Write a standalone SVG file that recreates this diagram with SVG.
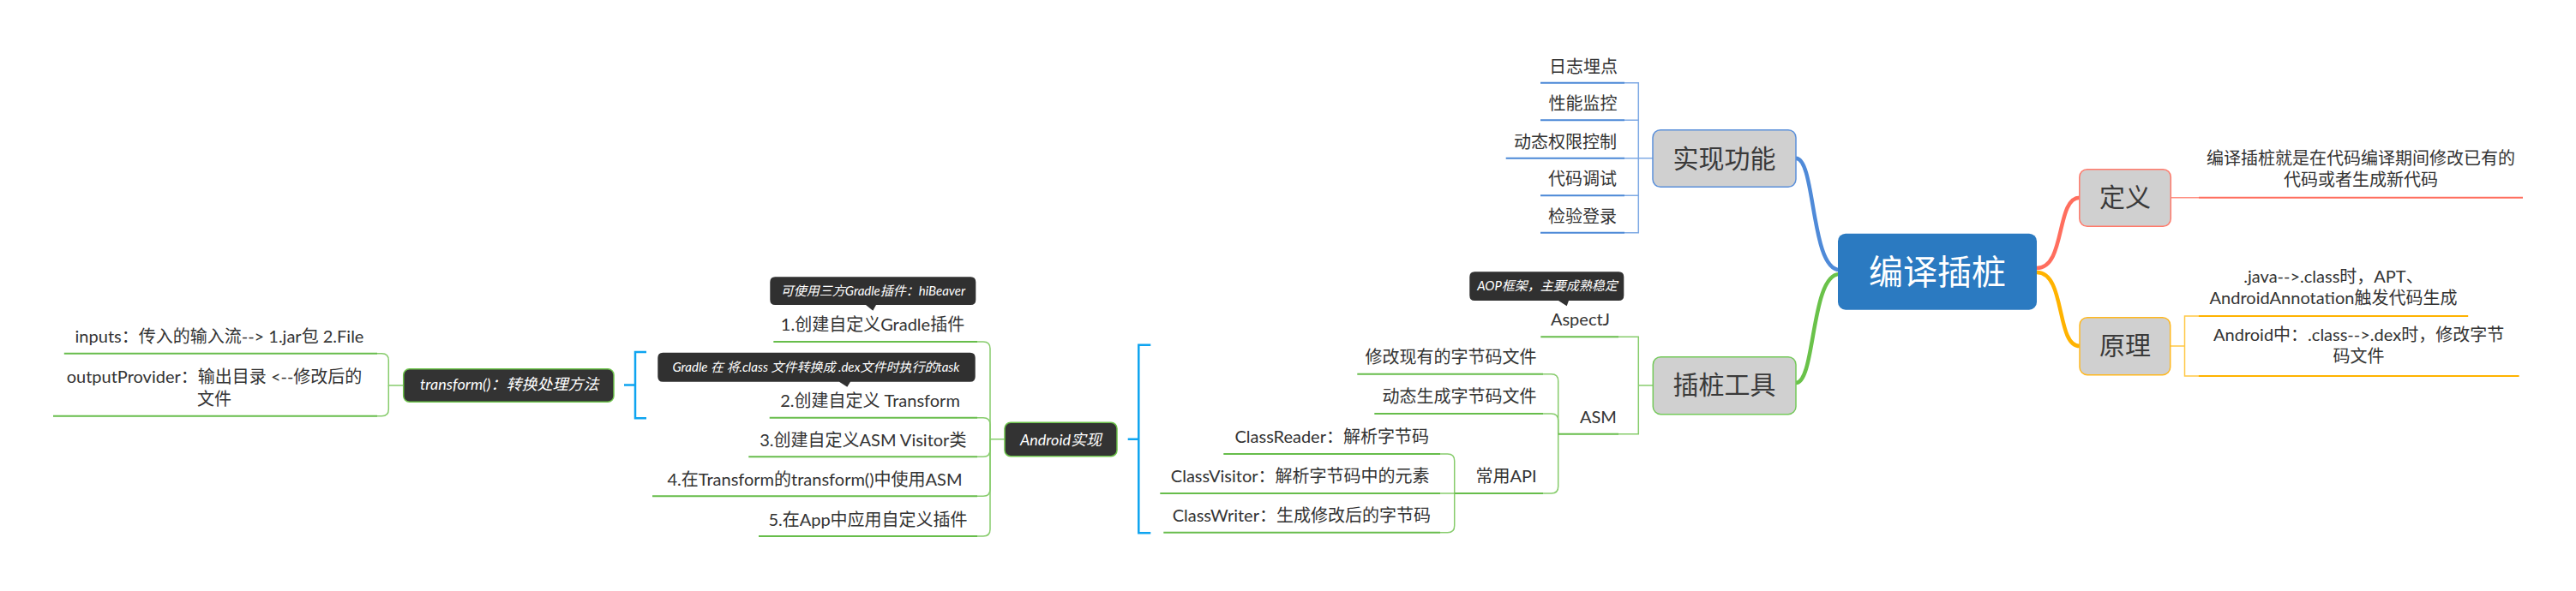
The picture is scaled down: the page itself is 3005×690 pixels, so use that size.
<svg xmlns="http://www.w3.org/2000/svg" width="3005" height="690" viewBox="0 0 3005 690">
<defs>
<style>
text{font-family:Lato,"Noto Sans CJK SC",sans-serif;fill:#333;font-size:20px;text-anchor:middle}
.big{font-size:30px;fill:#3a3a3a}
.root{font-size:40px;fill:#fff}
.dk{font-size:18px;fill:#fff;font-style:italic}
.tip{font-size:15px;fill:#fff;font-style:italic}
.gray{fill:#d0d0d0;stroke-width:1.5}
.dnode{fill:#333;stroke:#6cc24a;stroke-width:1.5}
.tipbox{fill:#303030}
.ub{stroke:#4a87d6;stroke-width:2;fill:none}
.cb{stroke:#7ea9e4;stroke-width:1.5;fill:none}
.ug{stroke:#67bd4b;stroke-width:2;fill:none}
.cg{stroke:#87cc6c;stroke-width:1.5;fill:none}
.uc{stroke:#ff6e5e;stroke-width:2;fill:none}
.ua{stroke:#ffb300;stroke-width:2;fill:none}
.br{stroke:#0ea4f0;stroke-width:2.5;fill:none}
</style>
</defs>
<rect width="3005" height="690" fill="#fff"/>

<g id="connectors">
  <!-- main branches -->
  <path d="M2146,315 C2112,315 2118,184.7 2095,184.7" stroke="#4f8ad8" stroke-width="4.5" fill="none"/>
  <path d="M2146,320 C2112,320 2118,447 2095,447" stroke="#6ac24a" stroke-width="4.5" fill="none"/>
  <path d="M2376,313 C2410,313 2398,230.7 2426,230.7" stroke="#ff6e5e" stroke-width="4.5" fill="none"/>
  <path d="M2376,318 C2410,318 2398,404 2426,404" stroke="#ffb300" stroke-width="4.5" fill="none"/>
  <!-- 实现功能 children -->
  <path class="cb" d="M1928,184.7 H1911.3"/>
  <path class="cb" d="M1895,96.7 H1911.3 V271.7 H1895"/>
  <path class="cb" d="M1895,140.3 H1911.3 M1895,184.7 H1911.3 M1895,228.3 H1911.3"/>
  <!-- 插桩工具 children -->
  <path class="cg" d="M1928.3,450 H1911.3"/>
  <path class="cg" d="M1888,393.3 H1911.3 V506.7 H1888"/>
  <!-- ASM children -->
  <path class="cg" d="M1817.7,506.7 V444.7 Q1817.7,436.7 1809.7,436.7 H1800"/>
  <path class="cg" d="M1817.7,506.7 V491 Q1817.7,483 1809.7,483 H1800"/>
  <path class="cg" d="M1817.7,506.7 V568 Q1817.7,576 1809.7,576 H1800"/>
  <!-- 常用API children -->
  <path class="cg" d="M1696.7,576 V538 Q1696.7,530 1688.7,530 H1680"/>
  <path class="cg" d="M1696.7,576 H1680"/>
  <path class="cg" d="M1696.7,576 V613.7 Q1696.7,621.7 1688.7,621.7 H1680"/>
  <!-- Android实现 children -->
  <path class="cg" d="M1172,512.7 H1155 V407 Q1155,399 1147,399 H1140"/>
  <path class="cg" d="M1155,512.7 V495.7 Q1155,487.7 1147,487.7 H1140"/>
  <path class="cg" d="M1155,512.7 V525.3 Q1155,533.3 1147,533.3 H1140"/>
  <path class="cg" d="M1155,512.7 V571.3 Q1155,579.3 1147,579.3 H1140"/>
  <path class="cg" d="M1155,512.7 V618 Q1155,626 1147,626 H1140"/>
  <!-- transform() children -->
  <path class="cg" d="M470.7,450 H453.3 V420.7 Q453.3,412.7 445.3,412.7 H440"/>
  <path class="cg" d="M453.3,450 V477.7 Q453.3,485.7 445.3,485.7 H440"/>
  <!-- 定义 child -->
  <path d="M2532.3,230.7 H2565" stroke="#ff8f82" stroke-width="1.5" fill="none"/>
  <!-- 原理 children -->
  <path d="M2531.7,404 H2548.5 M2564.6,369 H2548.5 V439 H2564.6" stroke="#ffc845" stroke-width="1.5" fill="none"/>
  <!-- summary brackets -->
  <path class="br" d="M1342.3,402.7 H1328.3 V622.3 H1342.3 M1328.3,512.7 H1315.7"/>
  <path class="br" d="M754,411 H741 V488.3 H754 M741,449.5 H728"/>
</g>

<g id="root">
  <rect x="2144" y="272.7" width="232" height="89" rx="9" fill="#2b7ac1"/>
  <text class="root" x="2260" y="332">编译插桩</text>
</g>

<g id="n-shixian">
  <rect class="gray" x="1928" y="151.7" width="167" height="66.6" rx="9" stroke="#5b90da"/>
  <text class="big" x="2011.5" y="196">实现功能</text>
</g>
<g id="n-rizhi"><path class="ub" d="M1797,96.7 H1895"/><text x="1847" y="84.5">日志埋点</text></g>
<g id="n-xingneng"><path class="ub" d="M1797,140.3 H1895"/><text x="1846.5" y="128">性能监控</text></g>
<g id="n-dongtai"><path class="ub" d="M1756.7,184.7 H1895"/><text x="1826" y="172.5">动态权限控制</text></g>
<g id="n-daima"><path class="ub" d="M1797,228.3 H1895"/><text x="1846" y="216">代码调试</text></g>
<g id="n-jianyan"><path class="ub" d="M1797,271.7 H1895"/><text x="1846" y="259.5">检验登录</text></g>

<g id="n-chazhuang">
  <rect class="gray" x="1928.3" y="416.7" width="166.7" height="67" rx="9" stroke="#74c95a"/>
  <text class="big" x="2011.5" y="460">插桩工具</text>
</g>
<g id="n-aspectj">
  <path class="tipbox" d="M1720.3,317.3 H1888.3 Q1894.3,317.3 1894.3,323.3 V345 Q1894.3,351 1888.3,351 H1830 L1827.7,357.3 L1818,351 H1720.3 Q1714.3,351 1714.3,345 V323.3 Q1714.3,317.3 1720.3,317.3 Z"/>
  <text class="tip" x="1805" y="339">AOP框架，主要成熟稳定</text>
  <path class="ug" d="M1797.3,393.3 H1888"/>
  <text x="1843.5" y="380">AspectJ</text>
</g>
<g id="n-asm"><path class="ug" d="M1817.7,506.7 H1888"/><text x="1864.4" y="494">ASM</text></g>
<g id="n-xiugai"><path class="ug" d="M1583.3,436.7 H1800"/><text x="1692.5" y="423.5">修改现有的字节码文件</text></g>
<g id="n-shengcheng"><path class="ug" d="M1603.3,483 H1800"/><text x="1702.5" y="470">动态生成字节码文件</text></g>
<g id="n-api"><path class="ug" d="M1696.7,576 H1800"/><text x="1757" y="563">常用API</text></g>
<g id="n-reader"><path class="ug" d="M1427.3,530 H1680"/><text x="1553.7" y="517">ClassReader：解析字节码</text></g>
<g id="n-visitor"><path class="ug" d="M1353.3,576 H1680"/><text x="1516.7" y="563">ClassVisitor：解析字节码中的元素</text></g>
<g id="n-writer"><path class="ug" d="M1357.3,621.7 H1680"/><text x="1518.3" y="609">ClassWriter：生成修改后的字节码</text></g>

<g id="n-android">
  <rect class="dnode" x="1172" y="493.3" width="131" height="39.4" rx="7"/>
  <text class="dk" x="1237.5" y="519.5">Android实现</text>
</g>
<g id="n-step1">
  <path class="tipbox" d="M904.3,323.3 H1132.3 Q1138.3,323.3 1138.3,329.3 V350 Q1138.3,356 1132.3,356 H1022 L1018.3,362.7 L1010,356 H904.3 Q898.3,356 898.3,350 V329.3 Q898.3,323.3 904.3,323.3 Z"/>
  <text class="tip" x="1018.5" y="344.5">可使用三方Gradle插件：hiBeaver</text>
  <path class="ug" d="M902.3,399 H1140"/>
  <text x="1018" y="385.5">1.创建自定义Gradle插件</text>
</g>
<g id="n-step2">
  <path class="tipbox" d="M773.3,411.7 H1131.7 Q1137.7,411.7 1137.7,417.7 V439.7 Q1137.7,445.7 1131.7,445.7 H992 L988.3,451.7 L979,445.7 H773.3 Q767.3,445.7 767.3,439.7 V417.7 Q767.3,411.7 773.3,411.7 Z"/>
  <text class="tip" x="952" y="433.5">Gradle 在 将.class 文件转换成 .dex文件时执行的task</text>
  <path class="ug" d="M897.7,487.7 H1140"/>
  <text x="1015" y="475">2.创建自定义 Transform</text>
</g>
<g id="n-step3"><path class="ug" d="M873.3,533.3 H1140"/><text x="1006.8" y="520.5">3.创建自定义ASM Visitor类</text></g>
<g id="n-step4"><path class="ug" d="M761,579.3 H1140"/><text x="950.5" y="567">4.在Transform的transform()中使用ASM</text></g>
<g id="n-step5"><path class="ug" d="M885,626 H1140"/><text x="1012.5" y="614">5.在App中应用自定义插件</text></g>

<g id="n-transform">
  <rect class="dnode" x="470.7" y="430.7" width="245.3" height="38.6" rx="7"/>
  <text class="dk" x="594.2" y="455">transform()：转换处理方法</text>
</g>
<g id="n-inputs"><path class="ug" d="M74.8,412.7 H440"/><text x="256" y="400">inputs：传入的输入流--&gt; 1.jar包 2.File</text></g>
<g id="n-output">
  <path class="ug" d="M62,485.7 H440"/>
  <text x="250" y="446.5">outputProvider：输出目录 &lt;--修改后的</text>
  <text x="250" y="472.5">文件</text>
</g>

<g id="n-dingyi">
  <rect class="gray" x="2425.8" y="197.7" width="106.5" height="66.6" rx="9" stroke="#ff7a6b"/>
  <text class="big" x="2479" y="241">定义</text>
</g>
<g id="n-def-text">
  <path class="uc" d="M2565,230.7 H2943"/>
  <text x="2754" y="191.5">编译插桩就是在代码编译期间修改已有的</text>
  <text x="2754" y="216.5">代码或者生成新代码</text>
</g>

<g id="n-yuanli">
  <rect class="gray" x="2426" y="370.7" width="105.7" height="67" rx="9" stroke="#ffb81f"/>
  <text class="big" x="2479" y="414">原理</text>
</g>
<g id="n-apt">
  <path class="ua" d="M2564.6,369 H2879.2"/>
  <text x="2722" y="330">.java--&gt;.class时，APT、</text>
  <text x="2722" y="355">AndroidAnnotation触发代码生成</text>
</g>
<g id="n-dex">
  <path class="ua" d="M2564.6,439 H2938.6"/>
  <text x="2751.6" y="398">Android中：.class--&gt;.dex时，修改字节</text>
  <text x="2751.6" y="423">码文件</text>
</g>
</svg>
